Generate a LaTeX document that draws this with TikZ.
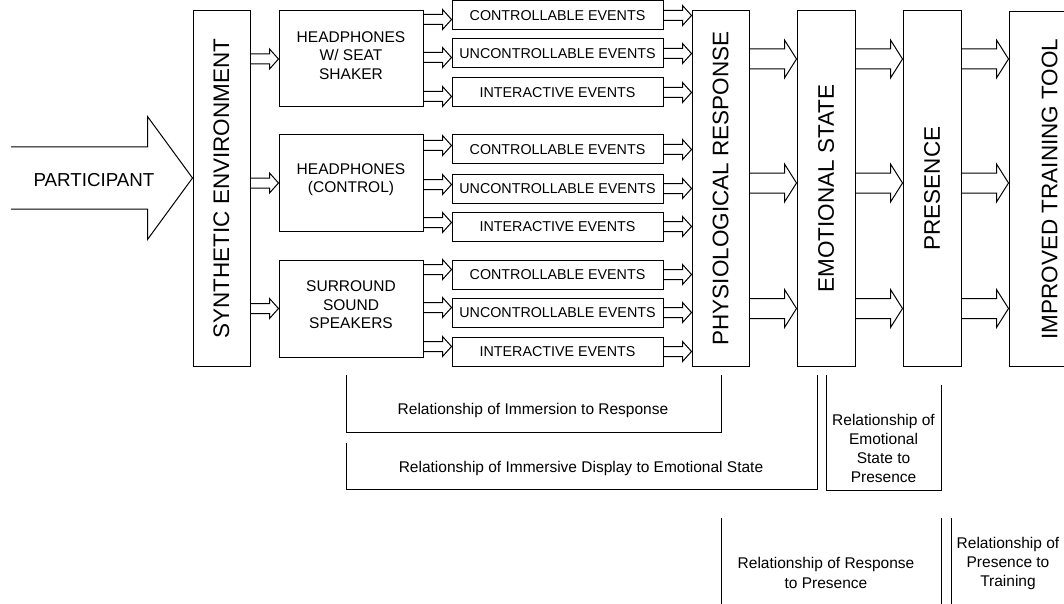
\documentclass[tikz,border=0pt]{standalone}
\usepackage{fontspec}
\setmainfont{Liberation Sans}
\usetikzlibrary{calc}

\tikzset{
  frame/.style={draw=black, line width=1pt, inner sep=0pt},
  stage/.style={frame, minimum width=57pt, minimum height=355pt,
    font=\fontsize{22.5}{27}\selectfont},
  device/.style={frame, minimum width=144pt, minimum height=96pt},
  devtext/.style={font=\fontsize{15.5}{18.5}\selectfont, align=center, inner sep=0pt, yshift=3.5pt},
  eventbox/.style={frame, minimum width=211pt, minimum height=29pt,
    font=\fontsize{14.3}{16}\selectfont},
  note/.style={font=\fontsize{15.5}{19}\selectfont, align=center, inner sep=0pt},
  blockline/.style={draw=black, line width=1pt, line join=miter},
  bracket/.style={draw=black, line width=1pt},
}

% hollow block arrow: tail point, tip point (arrow runs at the tip's height),
% half shaft, half head, head length
\newcommand\blockarrow[5]{%
  \draw[blockline] let \p1=(#1), \p2=(#2) in
    (\x1,{\y2+#3}) -- ({\x2-#5},{\y2+#3}) -- ({\x2-#5},{\y2+#4}) -- (\x2,\y2)
    -- ({\x2-#5},{\y2-#4}) -- ({\x2-#5},{\y2-#3}) -- (\x1,{\y2-#3});
}

\begin{document}
\begin{tikzpicture}[x=1pt,y=-1pt]
\useasboundingbox (0,0) rectangle (1064,604);
\fill[white] (0,0) rectangle (1064,604);
\clip (0,0) rectangle (1064,604);

% main stages
\node[stage] (synth) at (221.5,188.5) {\rotatebox{90}{SYNTHETIC ENVIRONMENT}};
\node[stage] (physio) at (720.5,188.5) {\rotatebox{90}{PHYSIOLOGICAL RESPONSE}};
\node[stage, minimum width=58pt] (emo) at (826,188.5) {\rotatebox{90}{EMOTIONAL STATE}};
\node[stage, minimum width=58pt] (pres) at (932,188.5) {\rotatebox{90}{PRESENCE}};
\node[stage, minimum width=81pt] (tool) at (1049.5,189) {\rotatebox{90}{IMPROVED TRAINING TOOL}};

% display devices
\node[device, label={[devtext]center:HEADPHONES\\W/ SEAT\\SHAKER}] (hp1) at (351,59) {};
\node[device, label={[devtext]center:HEADPHONES\\(CONTROL)}] (hp2) at (351,183) {};
\node[device, minimum height=97pt, label={[devtext]center:SURROUND\\SOUND\\SPEAKERS}] (hp3) at (351,308.5) {};

% event types
\node[eventbox] (ev11) at (557.5,15.5) {CONTROLLABLE EVENTS};
\node[eventbox] (ev12) at (557.5,53.5) {UNCONTROLLABLE EVENTS};
\node[eventbox] (ev13) at (557.5,92.5) {INTERACTIVE EVENTS};
\node[eventbox] (ev21) at (557.5,149.5) {CONTROLLABLE EVENTS};
\node[eventbox] (ev22) at (557.5,188.5) {UNCONTROLLABLE EVENTS};
\node[eventbox] (ev23) at (557.5,226.5) {INTERACTIVE EVENTS};
\node[eventbox] (ev31) at (557.5,274.5) {CONTROLLABLE EVENTS};
\node[eventbox] (ev32) at (557.5,312.5) {UNCONTROLLABLE EVENTS};
\node[eventbox] (ev33) at (557.5,351.5) {INTERACTIVE EVENTS};

% participant input
\coordinate (ptail) at (11,178);
\blockarrow{ptail}{synth.west |- ptail}{31pt}{61.5pt}{45pt}
\node[font=\fontsize{18.75}{22}\selectfont, inner sep=0pt] (part) at (94,180) {PARTICIPANT};

% environment to devices
\foreach \d in {hp1,hp2,hp3}{
  \blockarrow{synth.east |- \d}{\d.west}{5pt}{10pt}{9pt}
}

% devices to events, events to response
\foreach \g/\off in {1/4,2/-4,3/-5}{
  \foreach \e in {1,2,3}{
    \blockarrow{hp\g.east}{$(ev\g\e.west)+(0,\off)$}{5pt}{10pt}{9pt}
    \blockarrow{ev\g\e.east}{physio.west |- ev\g\e}{5pt}{10pt}{9pt}
  }
}

% stage to stage
\foreach \d in {hp1,hp2,hp3}{
  \blockarrow{physio.east |- \d}{emo.west |- \d}{10pt}{19pt}{12pt}
  \blockarrow{emo.east |- \d}{pres.west |- \d}{10pt}{19pt}{12pt}
  \blockarrow{pres.east |- \d}{tool.west |- \d}{10pt}{19pt}{12pt}
}

% relationship brackets
\draw[bracket] (346,375) -- (346,432) -- (721,432) -- (721,375);
\node[note] (r1) at (533,410) {Relationship of Immersion to Response};
\draw[bracket] (346,443) -- (346,489) -- (817,489) -- (817,375);
\node[note] (r2) at (581,468) {Relationship of Immersive Display to Emotional State};
\draw[bracket] (826,375) -- (826,490) -- (941,490) -- (941,385);
\node[note] (r3) at (883.5,448.5) {Relationship of\\Emotional\\State to\\Presence};
\draw[bracket] (721,518) -- (721,610);
\draw[bracket] (941,518) -- (941,610);
\node[note, font=\fontsize{15.5}{20}\selectfont] (r4) at (826,573) {Relationship of Response\\to Presence};
\draw[bracket] (951,518) -- (951,610);
\node[note] (r5) at (1008,563) {Relationship of\\Presence to\\Training};
\end{tikzpicture}
\end{document}
